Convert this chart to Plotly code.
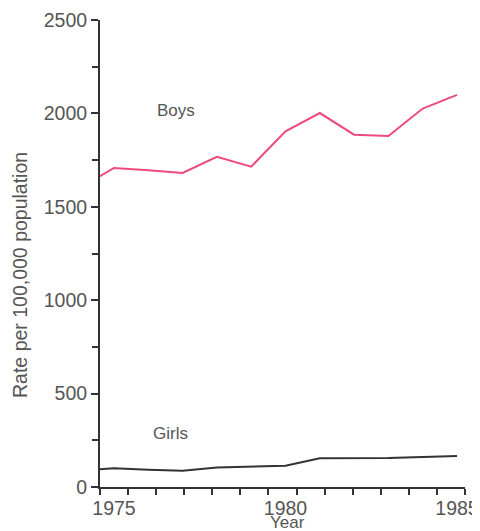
import plotly.graph_objects as go

years = [1974, 1975, 1976, 1977, 1978, 1979, 1980, 1981, 1982, 1983, 1984, 1985]
boys = [1600, 1708, 1695, 1681, 1768, 1715, 1904, 2002, 1886, 1879, 2026, 2099]
girls = [88, 100, 92, 87, 104, 109, 114, 154, 154, 155, 160, 166]

x_tick_vals = [1975, 1980, 1985]
y_tick_vals = [0, 500, 1000, 1500, 2000, 2500]

x_start, x_end = 1974.592, 1985.233
minor_x = [x_start + k * (x_end - x_start) / 13 for k in range(14)]

font = "Liberation Sans, Arial, sans-serif"
grey = "#555555"
axis_col = "#333333"

# plot area spans 382px; the drawn x axis uses the first 365px,
# a second label-only axis spans the full width so "1985" is not clipped
frac = 365 / 382
x_end_full = x_start + (x_end - x_start) / frac

fig = go.Figure()
fig.add_trace(go.Scatter(x=years, y=boys, mode="lines", line=dict(color="#ee4a7c", width=2)))
fig.add_trace(go.Scatter(x=years, y=girls, mode="lines", line=dict(color="#333333", width=2)))
# invisible copy so the label axis (x2) gets drawn
fig.add_trace(go.Scatter(x=years, y=girls, xaxis="x2", yaxis="y", mode="lines",
                         line=dict(width=0, color="rgba(0,0,0,0)"), hoverinfo="skip"))

fig.add_annotation(x=1976.8, y=2015, text="Boys", showarrow=False,
                   font=dict(family=font, size=17, color=grey))
fig.add_annotation(x=1976.65, y=289, text="Girls", showarrow=False,
                   font=dict(family=font, size=17, color=grey))

# axis titles placed as annotations
fig.add_annotation(xref="x domain", yref="paper", x=0.515, y=0, yanchor="top", yshift=-24,
                   text="Year", showarrow=False, font=dict(family=font, size=17, color=grey))
fig.add_annotation(xref="paper", yref="paper", x=0, xanchor="center", xshift=-80, y=0.454,
                   text="Rate per 100,000 population", textangle=-90, showarrow=False,
                   font=dict(family=font, size=19.5, color=grey))

fig.update_layout(
    width=474, height=523,
    margin=dict(l=92, r=0, t=12, b=44),
    plot_bgcolor="rgba(0,0,0,0)", paper_bgcolor="white",
    showlegend=False,
    font=dict(family=font, size=19.5, color=grey),
    xaxis=dict(
        domain=[0, frac], range=[x_start, x_end], showticklabels=False,
        showgrid=False, zeroline=False, showline=True, linecolor=axis_col, linewidth=2,
        ticks="", tickvals=x_tick_vals,
        minor=dict(tickvals=minor_x, ticks="outside", ticklen=6, tickcolor=axis_col, tickwidth=2, showgrid=False),
        automargin=False,
    ),
    xaxis2=dict(
        domain=[0, 1], range=[x_start, x_end_full], anchor="y",
        tickvals=x_tick_vals, ticktext=[str(v) for v in x_tick_vals],
        ticks="outside", ticklen=4, tickcolor="rgba(0,0,0,0)",
        showgrid=False, zeroline=False, showline=False,
        ticklabeloverflow="allow", automargin=False,
    ),
    yaxis=dict(
        range=[0, 2500], tickvals=y_tick_vals, anchor="x",
        showgrid=False, zeroline=False, showline=True, linecolor=axis_col, linewidth=2,
        ticks="outside", ticklen=7, tickcolor=axis_col, tickwidth=2,
        minor=dict(dtick=250, ticks="outside", ticklen=6, tickcolor=axis_col, tickwidth=2, showgrid=False),
        automargin=False,
    ),
)

fig.write_html("out.html")
